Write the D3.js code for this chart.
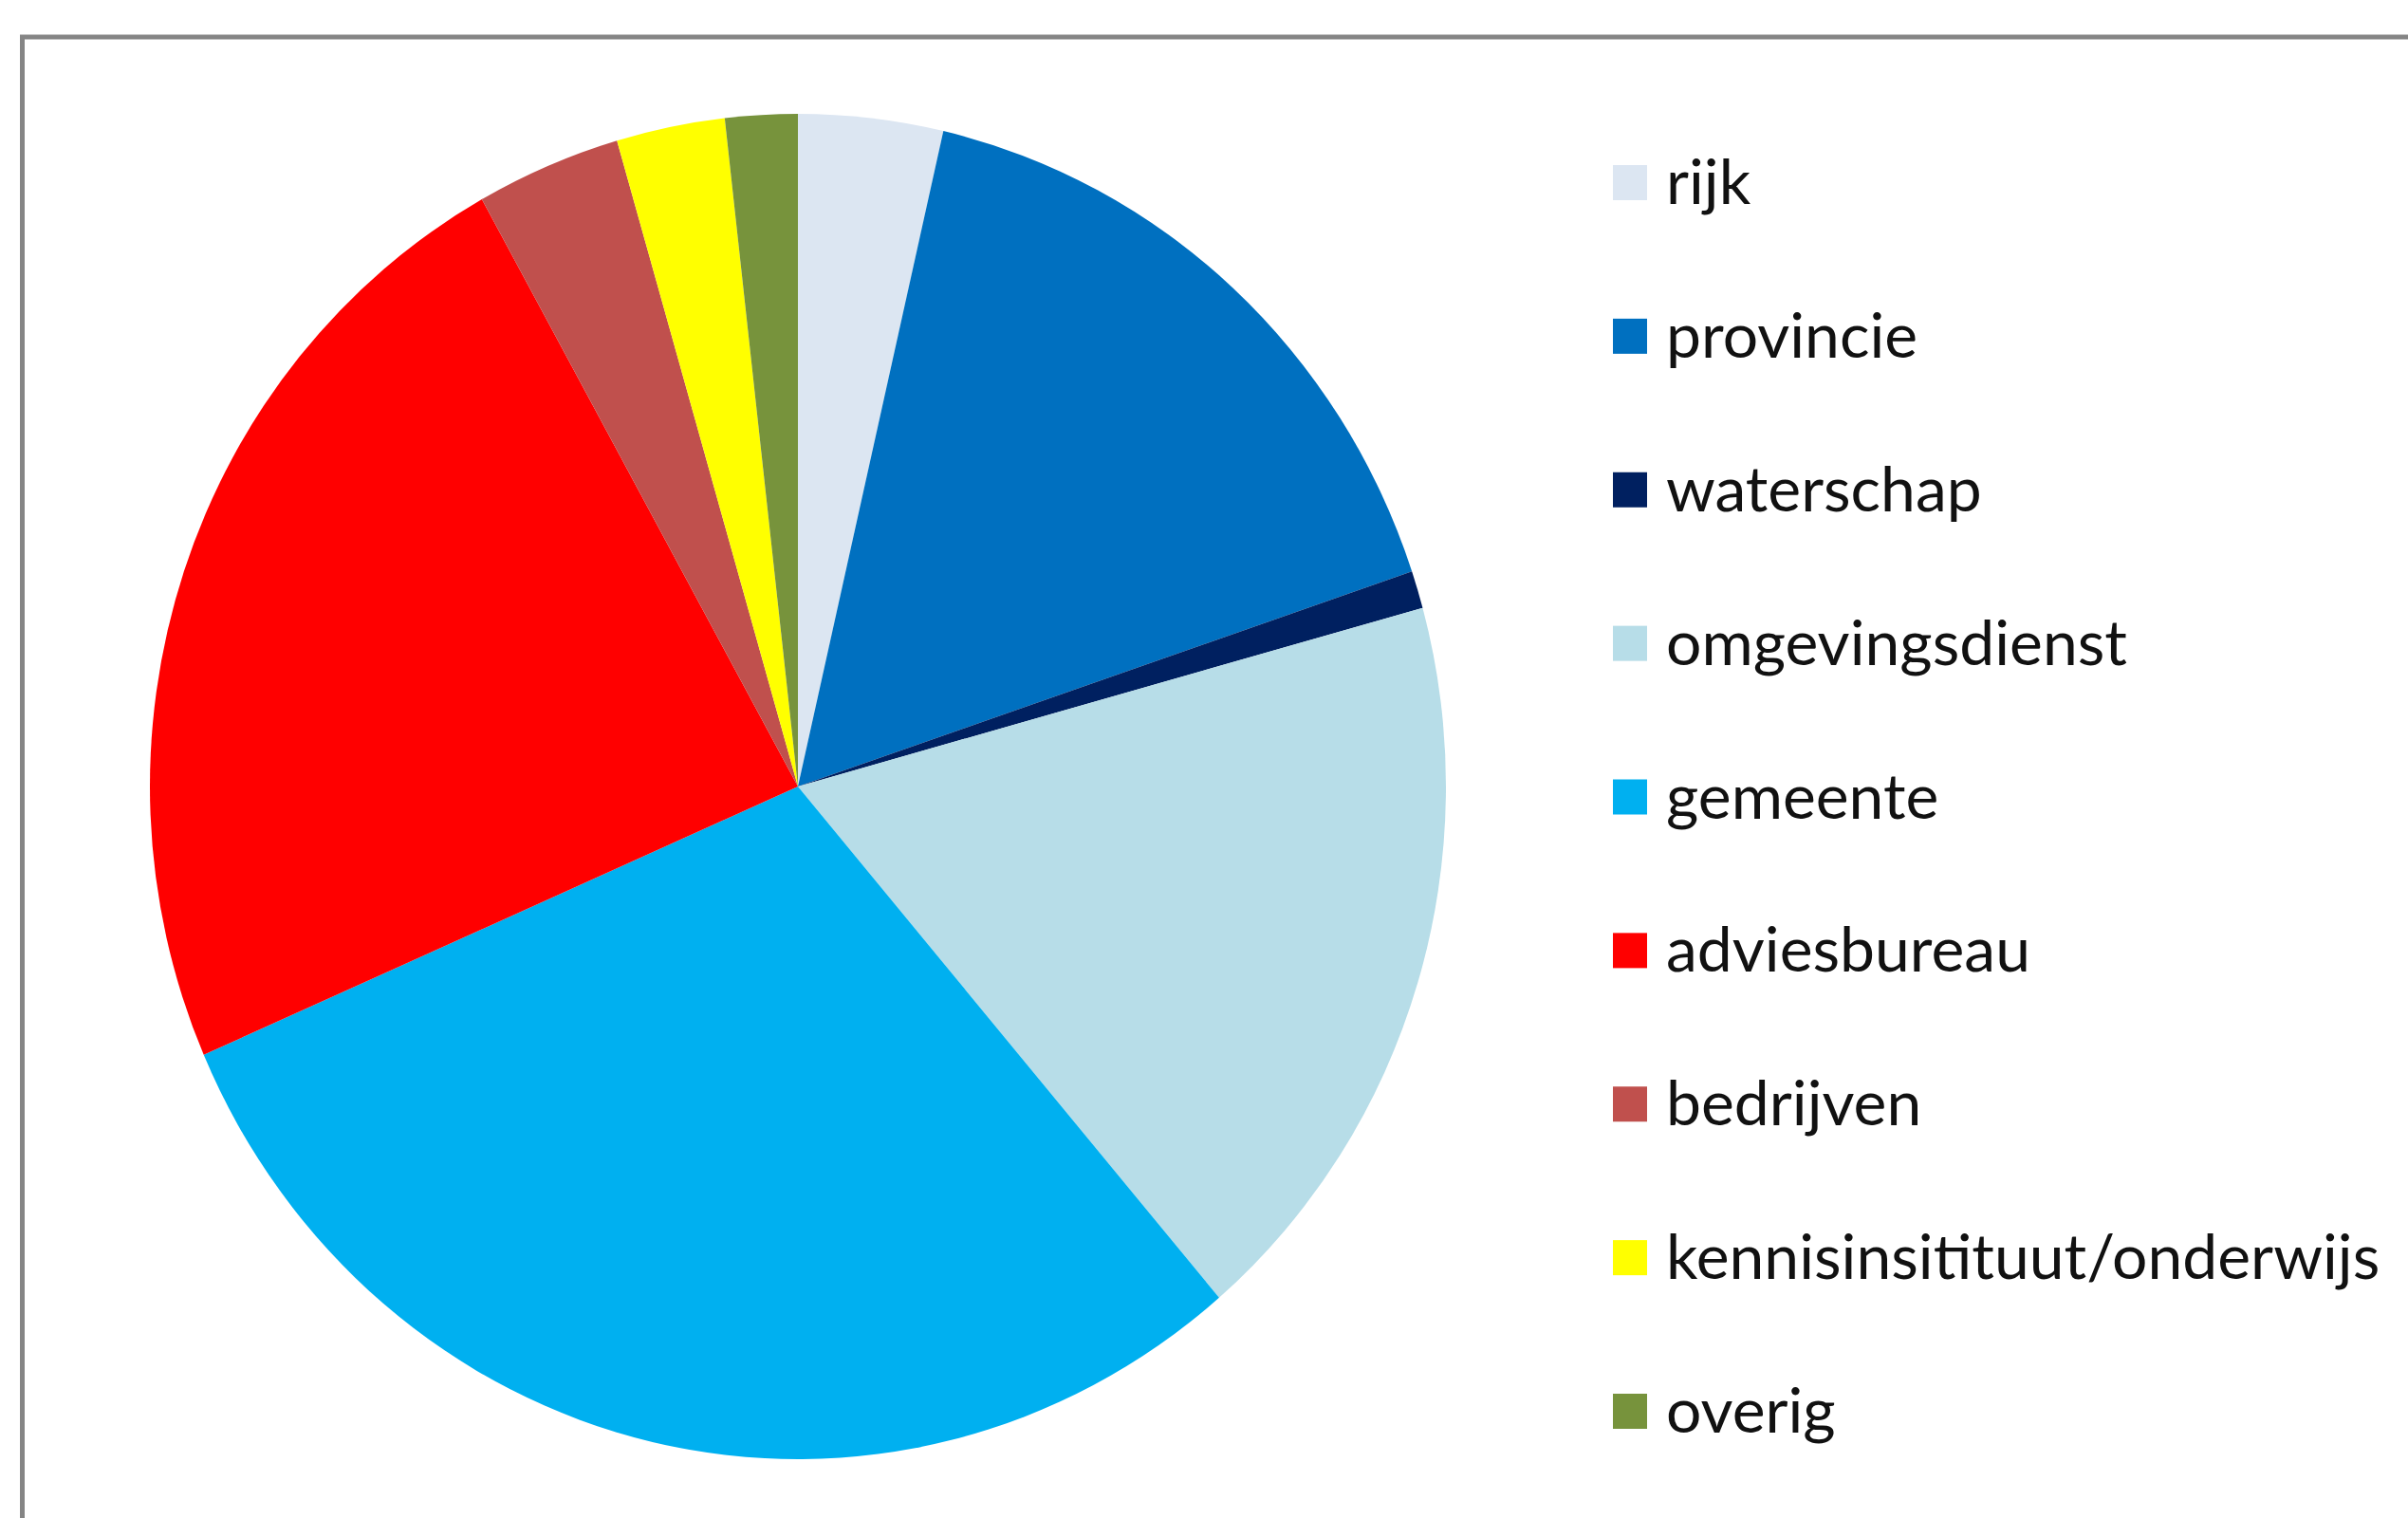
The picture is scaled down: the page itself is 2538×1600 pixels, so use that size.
<!DOCTYPE html>
<html>
<head>
<meta charset="utf-8">
<script src="https://cdn.jsdelivr.net/npm/d3@7"></script>
<style>
  body { margin: 0; background: #fff; }
</style>
</head>
<body>
<div id="pie-chart"></div>
<script>
const categories = ["rijk", "provincie", "waterschap", "omgevingsdienst", "gemeente",
  "adviesbureau", "bedrijven", "kennisinsitituut/onderwijs", "overig"];
const values = [4, 18, 1, 20, 33, 26, 4, 3, 2];
const colors = ["#DCE6F2", "#0070C0", "#002060", "#B7DDE8", "#00B0F0",
  "#FF0000", "#C0504D", "#FFFF00", "#77933C"];

const width = 2538, height = 1600;
const cx = 841, cy = 829, rx = 683, ry = 709;

const data = categories.map((c, i) => ({ label: c, value: values[i] }));
const color = d3.scaleOrdinal().domain(categories).range(colors);

const svg = d3.select("#pie-chart")
  .append("svg")
  .attr("width", width)
  .attr("height", height);

// frame
svg.append("rect")
  .attr("x", 23.5).attr("y", 39)
  .attr("width", width + 20).attr("height", height + 20)
  .attr("fill", "none")
  .attr("stroke", "#858585")
  .attr("stroke-width", 5);

const g = svg.append("g")
  .attr("transform", `translate(${cx}, ${cy}) scale(${rx / ry}, 1)`);

const pie = d3.pie().sort(null).value(d => d.value);
const arc = d3.arc().innerRadius(0).outerRadius(ry);

g.selectAll("path")
  .data(pie(data))
  .enter()
  .append("path")
  .attr("d", arc)
  .attr("fill", d => color(d.data.label));

// legend
const legendY = d3.scalePoint().domain(categories).range([192, 1487]);

const legend = svg.append("g");
const items = legend.selectAll("g")
  .data(categories)
  .enter()
  .append("g")
  .attr("transform", d => `translate(1700, ${legendY(d)})`);

items.append("rect")
  .attr("x", 0).attr("y", -18)
  .attr("width", 36).attr("height", 37)
  .attr("fill", d => color(d));

items.append("text")
  .attr("x", 56)
  .attr("dy", "0.35em")
  .style("font-family", "Lato, 'Open Sans', sans-serif")
  .style("font-size", "66px")
  .style("fill", "#111")
  .text(d => d);
</script>
</body>
</html>
